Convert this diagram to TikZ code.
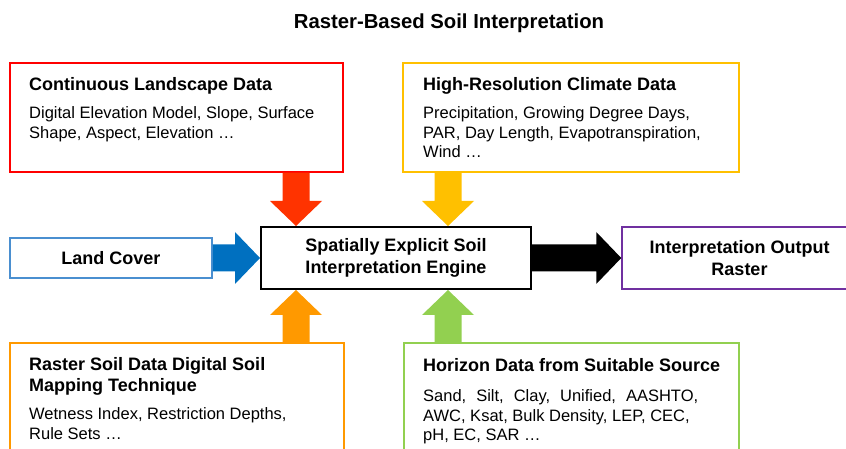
\documentclass[tikz,border=0pt]{standalone}
\usepackage{fontspec}
\setmainfont{Liberation Sans}
\usetikzlibrary{calc}
\definecolor{cred}{HTML}{FF0000}
\definecolor{credarrow}{HTML}{FF3300}
\definecolor{cyellow}{HTML}{FFC000}
\definecolor{cblueline}{HTML}{4A8FD0}
\definecolor{cblue}{HTML}{0070C0}
\definecolor{cpurple}{HTML}{7030A0}
\definecolor{corange}{HTML}{FF9900}
\definecolor{cgreen}{HTML}{92D050}
\newcommand\hfont{\fontsize{18bp}{21bp}\selectfont\bfseries}
\newcommand\bfont{\fontsize{16.5bp}{19.5bp}\selectfont\mdseries}
\newcommand\fatarrow[3]{%
  \fill[#1] let \p1=(#2), \p2=(#3),
    \n1={veclen(\x2-\x1,\y2-\y1)}, \n2={atan2(\y2-\y1,\x2-\x1)} in
    [shift={(\p1)}, rotate=\n2]
    (0pt,-13.5bp) -- ({\n1-25bp},-13.5bp) -- ({\n1-25bp},-26bp) -- (\n1,0pt)
    -- ({\n1-25bp},26bp) -- ({\n1-25bp},13.5bp) -- (0pt,13.5bp) -- cycle;}
\tikzset{
  box/.style={rectangle, line width=1.5bp, fill=white, inner sep=0pt},
  txt/.style={anchor=base west, inner sep=0pt, align=left},
}
\begin{document}
\begin{tikzpicture}[x=1bp, y=-1bp]
\clip (0,0) rectangle (846,449);
% title
\node[anchor=base, inner sep=0pt, font=\fontsize{20.3bp}{24bp}\selectfont\bfseries] (title) at (449,28.5) {Raster-Based Soil Interpretation};
% boxes
\node[box, draw=cred, minimum width=333bp, minimum height=109bp] (red) at (176.5,117.5) {};
\node[box, draw=cyellow, minimum width=336bp, minimum height=109bp] (yellow) at (571,117.5) {};
\node[box, draw=cblueline, minimum width=202bp, minimum height=40bp, font=\hfont] (land) at (111,258) {Land Cover};
\node[box, draw=black, line width=2bp, minimum width=270bp, minimum height=62bp, align=center, font=\hfont] (engine) at (396,258) {Spatially Explicit Soil\\[1bp]Interpretation Engine};
\node[box, draw=cpurple, minimum width=235bp, minimum height=62bp, align=center, font=\hfont] (output) at (739.5,258) {Interpretation Output\\[1bp]Raster};
\node[box, draw=corange, minimum width=334bp, minimum height=127bp] (orange) at (177,406.5) {};
\node[box, draw=cgreen, minimum width=335bp, minimum height=127bp] (green) at (571.5,406.5) {};
% box texts
\node[txt] (redtext) at (29,91) {\parbox[t]{310bp}{\raggedright\hfont Continuous Landscape Data\par\vspace{8.3bp}\bfont Digital Elevation Model, Slope, Surface\\Shape, Aspect, Elevation …}};
\node[txt] (yellowtext) at (423,91) {\parbox[t]{310bp}{\raggedright\hfont High-Resolution Climate Data\par\vspace{8.3bp}\bfont Precipitation, Growing Degree Days,\\PAR, Day Length, Evapotranspiration,\\Wind …}};
\node[txt] (orangetext) at (29,371) {\parbox[t]{310bp}{\raggedright\hfont Raster Soil Data Digital Soil\\Mapping Technique\par\vspace{8.3bp}\bfont Wetness Index, Restriction Depths,\\Rule Sets …}};
\node[txt] (greentext) at (423,372) {\parbox[t]{310bp}{\raggedright\hfont Horizon Data from Suitable Source\par\vspace{10.3bp}\bfont \makebox[275bp][s]{Sand, Silt, Clay, Unified, AASHTO,}\\AWC, Ksat, Bulk Density, LEP, CEC,\\pH, EC, SAR …}};
% arrow anchor points
\coordinate (rt) at ($(engine.north west)+(36,0)$);
\coordinate (rs) at (rt |- red.south);
\coordinate (yt) at ($(engine.north west)+(188,0)$);
\coordinate (ys) at (yt |- yellow.south);
\coordinate (bs) at (land.east);
\coordinate (bt) at (bs -| engine.west);
\coordinate (ks) at (engine.east);
\coordinate (kt) at (ks -| output.west);
\coordinate (os) at (rt |- orange.north);
\coordinate (ot) at (rt |- engine.south);
\coordinate (gs) at (yt |- green.north);
\coordinate (gt) at (yt |- engine.south);
% arrows
\fatarrow{credarrow}{rs}{rt}
\fatarrow{cyellow}{ys}{yt}
\fatarrow{cblue}{bs}{bt}
\fatarrow{black}{ks}{kt}
\fatarrow{corange}{os}{ot}
\fatarrow{cgreen}{gs}{gt}
\end{tikzpicture}
\end{document}
